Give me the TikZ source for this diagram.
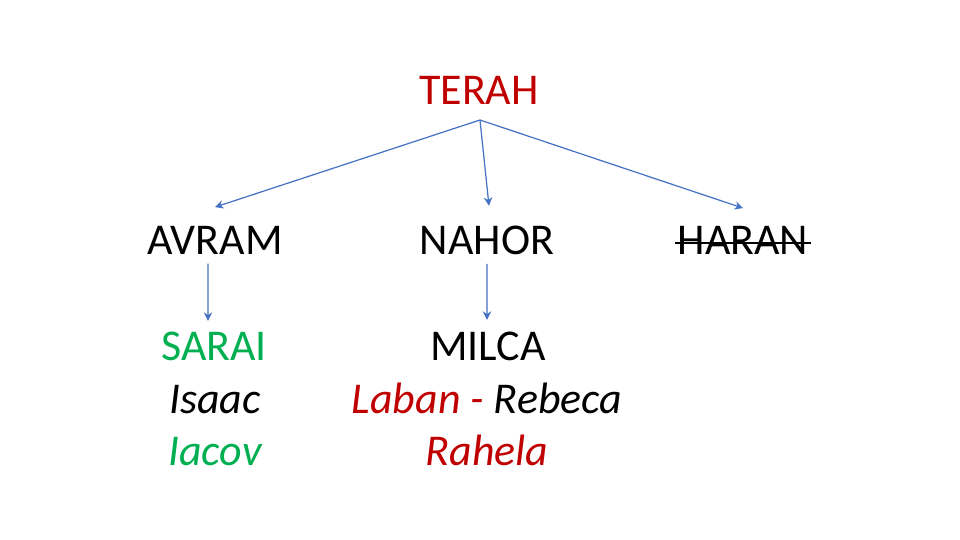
\documentclass[tikz,border=0pt]{standalone}
\usepackage{fontspec}
\setmainfont{Carlito}
\usetikzlibrary{arrows.meta}
\definecolor{darkred}{RGB}{192,0,0}
\definecolor{kingreen}{RGB}{0,176,80}
\definecolor{arrowblue}{RGB}{68,114,196}
\tikzset{
  person/.style={anchor=base,inner sep=0pt,font=\fontsize{12.5}{15}\selectfont},
  kid/.style={person,font=\fontsize{12.5}{15}\selectfont\itshape},
  link/.style={->,color=arrowblue,line width=0.35pt,>={Stealth[length=2.4pt,width=2.4pt]}}
}
\begin{document}
\begin{tikzpicture}
		\useasboundingbox (0,0) rectangle (9.6,5.4);
		\node[person,text=darkred] (terah) at (4.79,4.35) {TERAH};
		\node[person] (avram) at (2.15,2.85) {AVRAM};
		\node[person] (nahor) at (4.87,2.85) {NAHOR};
		\node[person] (haran) at (7.43,2.85) {HARAN};
		%
		\node[person,text=kingreen] (sarai) at (2.14,1.79) {SARAI};
		\node[kid] (isaac) at (2.15,1.26) {Isaac};
		\node[kid,text=kingreen] (iacov) at (2.15,0.74) {Iacov};
		\node[person] (milca) at (4.88,1.79) {MILCA};
		\node[kid] (laban) at (4.87,1.26) {{\color{darkred}Laban -} Rebeca};
		\node[kid,text=darkred] (rahela) at (4.87,0.74) {Rahela};
		%
		\coordinate (split) at (4.80,4.20);
		\path[link]
		(split) edge ([yshift=0.19cm]avram.north)
		(split) edge ([xshift=0.02cm,yshift=0.2cm]nahor.north)
		(split) edge ([yshift=0.18cm]haran.north)
		([xshift=-0.07cm,yshift=-0.08cm]avram.south) edge ([xshift=-0.06cm,yshift=0.11cm]sarai.north)
		([yshift=-0.08cm]nahor.south) edge ([xshift=-0.01cm,yshift=0.12cm]milca.north);
		%
		\draw[line width=0.75pt] ([xshift=-0.02cm,yshift=-0.02cm]haran.west) -- ([xshift=0.02cm,yshift=-0.02cm]haran.east);
\end{tikzpicture}
\end{document}
